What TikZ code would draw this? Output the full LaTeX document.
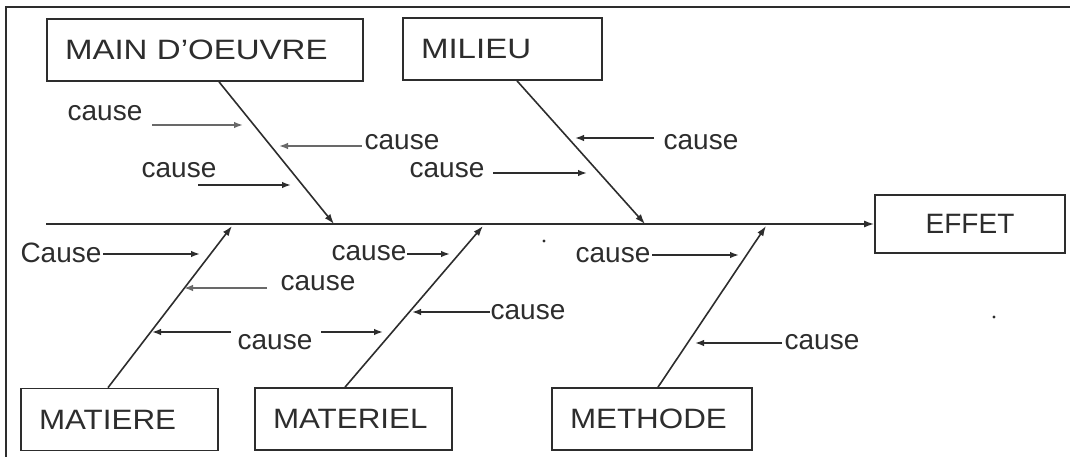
\documentclass[tikz,border=0pt]{standalone}
\usepackage{fontspec}
\setmainfont{Liberation Sans}
\newfontfamily\boxfont[FakeStretch=1.12]{Liberation Sans}
\newfontfamily\wideboxfont[FakeStretch=1.18]{Liberation Sans}
\usetikzlibrary{arrows.meta}
\definecolor{ink}{RGB}{45,45,45}
\definecolor{lightink}{RGB}{105,105,105}
\begin{document}
\begin{tikzpicture}[x=1pt,y=-1pt,
  box/.style={draw=ink,line width=1.7pt,minimum height=62pt,inner xsep=18pt,inner ysep=0pt,
    align=left,font=\boxfont\fontsize{28}{30}\selectfont,text=ink},
  widebox/.style={box,font=\wideboxfont\fontsize{28}{30}\selectfont},
  lbl/.style={font=\fontsize{28}{30}\selectfont,text=ink,inner sep=0pt},
  bone/.style={draw=ink,line width=1.6pt,-{Latex[length=10pt,width=7pt]}},
  carrow/.style={draw=ink,line width=1.5pt,-{Latex[length=9pt,width=6.5pt]}},
  garrow/.style={carrow,draw=lightink}
]
\useasboundingbox (0,0) rectangle (1070,457);
\draw[line width=2pt,ink] (6,457) -- (6,7) -- (1070,7);

% category boxes
\node[widebox,text width=280pt] (main) at (205,50) {MAIN D’OEUVRE};
\node[widebox,text width=163pt] (milieu) at (502.5,49) {MILIEU};
\node[box,text width=154pt,align=center,minimum height=58pt,font=\fontsize{28}{30}\selectfont] (effet) at (970,224) {EFFET};
\node[box,text width=161pt] (matiere) at (119.5,419.5) {MATIERE};
\node[box,text width=161pt] (materiel) at (353.5,419) {MATERIEL};
\node[box,text width=164pt] (methode) at (652,419) {METHODE};

% spine
\coordinate (tail) at (46,224);
\draw[bone] (tail) -- (effet.west);

% bones
\coordinate (jmain) at (334,224);
\coordinate (jmilieu) at (645,224);
\coordinate (jmatiere) at (232,226);
\coordinate (jmateriel) at (483,226);
\coordinate (jmethode) at (766,226);
\draw[bone] ([xshift=14pt]main.south) -- (jmain);
\draw[bone] ([xshift=14.5pt]milieu.south) -- (jmilieu);
\draw[bone] ([xshift=-11.5pt]matiere.north) -- (jmatiere);
\draw[bone] ([xshift=-8.5pt]materiel.north) -- (jmateriel);
\draw[bone] ([xshift=6pt]methode.north) -- (jmethode);

% cause labels
\node[lbl] (c1) at (105,113) {cause};
\node[lbl] (c2) at (402,142) {cause};
\node[lbl] (c3) at (179,170) {cause};
\node[lbl] (c4) at (447,170) {cause};
\node[lbl] (c5) at (701,142) {cause};
\node[lbl] (c6) at (61,253) {Cause};
\node[lbl] (c7) at (318,283) {cause};
\node[lbl] (c8) at (275,342) {cause};
\node[lbl] (c9) at (369,253) {cause};
\node[lbl] (c10) at (528,312) {cause};
\node[lbl] (c11) at (613,255) {cause};
\node[lbl] (c12) at (822,342) {cause};

% cause arrows
\coordinate (a1s) at (152,125); \coordinate (a1e) at (243,125);
\draw[garrow] (a1s) -- (a1e);
\coordinate (a2s) at (362,146); \coordinate (a2e) at (279,146);
\draw[garrow] (a2s) -- (a2e);
\coordinate (a3s) at (198,185); \coordinate (a3e) at (291,185);
\draw[carrow] (a3s) -- (a3e);
\coordinate (a4s) at (493,173); \coordinate (a4e) at (587,173);
\draw[carrow] (a4s) -- (a4e);
\coordinate (a5s) at (654,138); \coordinate (a5e) at (575,138);
\draw[carrow] (a5s) -- (a5e);
\coordinate (a6s) at (103,254); \coordinate (a6e) at (200,254);
\draw[carrow] (a6s) -- (a6e);
\coordinate (a7s) at (267,288); \coordinate (a7e) at (184,288);
\draw[garrow] (a7s) -- (a7e);
\coordinate (a8s) at (231,332); \coordinate (a8e) at (152,332);
\draw[carrow] (a8s) -- (a8e);
\coordinate (a9s) at (321,332); \coordinate (a9e) at (383,332);
\draw[carrow] (a9s) -- (a9e);
\coordinate (a10s) at (407,254); \coordinate (a10e) at (450,254);
\draw[carrow] (a10s) -- (a10e);
\coordinate (a11s) at (490,312); \coordinate (a11e) at (412,312);
\draw[carrow] (a11s) -- (a11e);
\coordinate (a12s) at (652,255); \coordinate (a12e) at (739,255);
\draw[carrow] (a12s) -- (a12e);
\coordinate (a13s) at (782,343); \coordinate (a13e) at (695,343);
\draw[carrow] (a13s) -- (a13e);

% stray dots
\fill[ink] (544,241) circle (1.6pt);
\fill[ink] (994,317) circle (1.6pt);
\end{tikzpicture}
\end{document}
